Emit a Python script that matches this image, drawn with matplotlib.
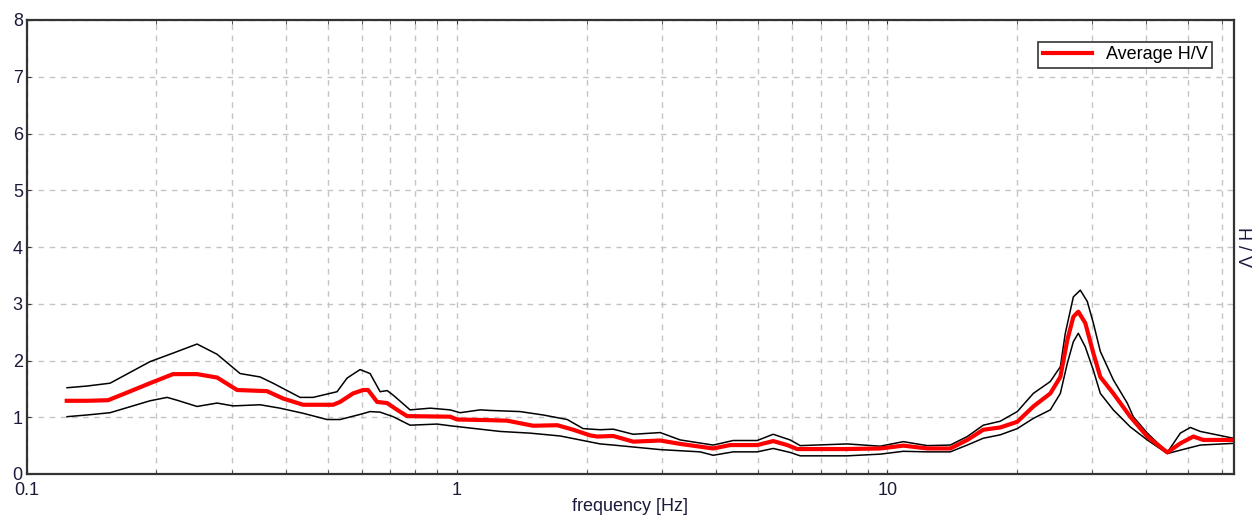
import numpy as np
import matplotlib.pyplot as plt
from matplotlib.ticker import FixedLocator, LogLocator, NullFormatter

plt.rcParams['font.family'] = ['Liberation Sans', 'DejaVu Sans']

# average H/V curve (red)
freq_avg = [0.1237, 0.1379, 0.1543, 0.1690, 0.1932, 0.2185, 0.2485, 0.2766, 0.3080, 0.3615,
            0.3938, 0.4384, 0.5066, 0.5148, 0.5344, 0.5729, 0.6044, 0.6209, 0.6516, 0.6875,
            0.7254, 0.7650, 0.9632, 1.0, 1.174, 1.307, 1.502, 1.709, 1.861, 2.039,
            2.117, 2.306, 2.567, 2.966, 3.302, 3.938, 4.314, 4.985, 5.430, 5.853,
            6.175, 8.072, 9.632, 10.90, 12.39, 14.01, 15.35, 16.72, 18.31, 20.06,
            21.86, 23.94, 25.26, 26.22, 27.08, 27.81, 28.87, 30.14, 31.29, 33.54,
            36.73, 40.24, 44.79, 48.02, 51.48, 54.31, 63.79]
hv_avg = [1.29, 1.29, 1.30, 1.42, 1.60, 1.76, 1.76, 1.70, 1.48, 1.46,
          1.33, 1.22, 1.22, 1.22, 1.27, 1.42, 1.48, 1.48, 1.27, 1.25,
          1.13, 1.02, 1.01, 0.96, 0.95, 0.94, 0.85, 0.86, 0.78, 0.68,
          0.66, 0.67, 0.57, 0.59, 0.53, 0.45, 0.51, 0.51, 0.58, 0.51,
          0.44, 0.44, 0.45, 0.50, 0.45, 0.45, 0.60, 0.78, 0.82, 0.92,
          1.19, 1.42, 1.71, 2.36, 2.77, 2.86, 2.66, 2.13, 1.71, 1.42,
          1.01, 0.66, 0.38, 0.54, 0.66, 0.60, 0.60]

# upper bound (black)
freq_hi = [0.1239, 0.1379, 0.1560, 0.1932, 0.2185, 0.2485, 0.2766, 0.3129, 0.3483, 0.3733,
           0.4314, 0.4625, 0.5259, 0.5548, 0.5947, 0.6276, 0.6622, 0.6875, 0.7101, 0.7774,
           0.8656, 0.9632, 1.016, 1.131, 1.193, 1.401, 1.585, 1.803, 1.963, 2.151,
           2.306, 2.567, 2.966, 3.302, 3.938, 4.384, 4.985, 5.430, 5.947, 6.276,
           8.072, 9.632, 10.90, 12.39, 14.01, 15.35, 16.72, 18.31, 20.06, 21.86,
           23.94, 25.26, 25.94, 27.08, 28.11, 29.18, 30.14, 31.29, 33.54, 36.14,
           37.33, 40.24, 44.79, 48.02, 50.66, 53.44, 63.79]
hv_hi = [1.52, 1.55, 1.60, 1.98, 2.13, 2.29, 2.11, 1.77, 1.71, 1.60,
         1.35, 1.35, 1.45, 1.69, 1.84, 1.77, 1.45, 1.47, 1.39, 1.13,
         1.16, 1.13, 1.08, 1.13, 1.12, 1.10, 1.04, 0.96, 0.80, 0.78,
         0.79, 0.70, 0.73, 0.60, 0.51, 0.59, 0.59, 0.70, 0.60, 0.50,
         0.53, 0.49, 0.57, 0.50, 0.51, 0.66, 0.86, 0.93, 1.10, 1.42,
         1.63, 1.89, 2.48, 3.12, 3.24, 3.04, 2.66, 2.16, 1.66, 1.25,
         1.01, 0.72, 0.38, 0.72, 0.82, 0.75, 0.63]

# lower bound (black)
freq_lo = [0.1239, 0.1379, 0.1560, 0.1932, 0.2117, 0.2233, 0.2485, 0.2766, 0.3014, 0.3483,
           0.3875, 0.4384, 0.4985, 0.5344, 0.5947, 0.6276, 0.6622, 0.7101, 0.7774, 0.8987,
           0.9632, 1.131, 1.259, 1.478, 1.736, 2.151, 2.306, 2.966, 3.674, 3.938,
           4.384, 4.985, 5.430, 5.947, 6.276, 8.072, 9.632, 10.90, 12.39, 14.01,
           15.35, 16.72, 18.31, 20.06, 21.86, 23.94, 25.26, 26.22, 27.08, 27.81,
           28.87, 30.14, 31.29, 33.54, 36.73, 40.24, 44.79, 48.02, 53.44, 63.79]
hv_lo = [1.01, 1.04, 1.08, 1.29, 1.35, 1.30, 1.19, 1.25, 1.20, 1.22,
         1.16, 1.07, 0.96, 0.96, 1.05, 1.10, 1.09, 1.01, 0.86, 0.88,
         0.85, 0.79, 0.75, 0.72, 0.67, 0.53, 0.51, 0.43, 0.39, 0.33,
         0.39, 0.39, 0.45, 0.38, 0.32, 0.32, 0.35, 0.40, 0.39, 0.39,
         0.51, 0.63, 0.69, 0.80, 0.98, 1.13, 1.42, 1.95, 2.33, 2.48,
         2.24, 1.83, 1.42, 1.13, 0.83, 0.60, 0.36, 0.42, 0.51, 0.54]

x_ticks = [0.1, 1, 10]
x_ticklabels = ['0.1', '1', '10']

fig = plt.figure(figsize=(12.6, 5.15), dpi=100)
ax = fig.add_axes([27 / 1260, 41 / 515, 1207 / 1260, 454 / 515])

ax.plot(freq_hi, hv_hi, color='black', lw=1.1)
ax.plot(freq_lo, hv_lo, color='black', lw=1.1)
ax.plot(freq_avg, hv_avg, color='#ff0000', lw=3, label='Average H/V')

ax.set_xscale('log')
ax.set_xlim(0.1, 64)
ax.set_ylim(0, 8)
ax.xaxis.set_major_locator(FixedLocator(x_ticks))
ax.set_xticklabels(x_ticklabels)
ax.xaxis.set_minor_locator(LogLocator(base=10, subs=np.arange(2, 10)))
ax.xaxis.set_minor_formatter(NullFormatter())
ax.set_yticks(range(0, 9))

ax.grid(True, which='both', axis='x', color='#c4c4c4', ls=(0, (4, 4)), lw=1)
ax.grid(True, which='major', axis='y', color='#c4c4c4', ls=(0, (4, 4)), lw=1)

ax.tick_params(axis='both', which='both', direction='in', length=3, labelsize=13,
               top=True, colors='#333333', labelcolor='#1a1a3a', pad=3)
ax.tick_params(axis='x', which='major', pad=6)
for s in ax.spines.values():
    s.set_linewidth(1.6)
    s.set_color('#333333')

ax.set_xlabel('frequency [Hz]', fontsize=13, labelpad=-1, color='#1a1a3a')
ax.yaxis.set_label_position('right')
ax.set_ylabel('H / V', fontsize=13, rotation=270, labelpad=12, color='#1a1a3a')

leg = ax.legend(loc='upper right', fontsize=13, frameon=True, fancybox=False,
                edgecolor='black', borderaxespad=1.2, handlelength=2.7,
                handletextpad=0.8, borderpad=0.25)
leg.get_frame().set_linewidth(1.2)

fig.savefig('out.png', dpi=100)
